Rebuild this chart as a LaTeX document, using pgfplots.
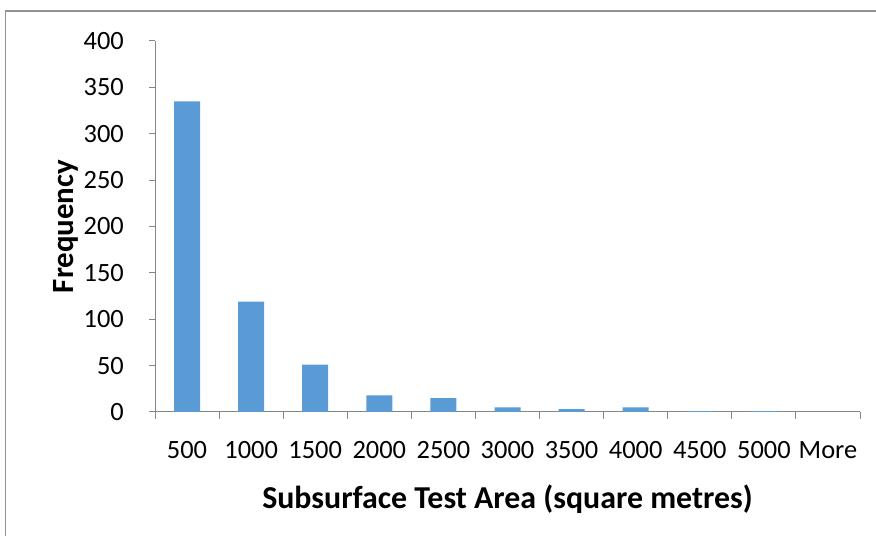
\documentclass[border=0pt]{standalone}
\usepackage{pgfplots}
\pgfplotsset{compat=1.18}
\usepackage{fontspec}
\setmainfont{Carlito}
\definecolor{barblue}{HTML}{5B9BD5}
\definecolor{axgray}{HTML}{868686}
\begin{document}
\begin{tikzpicture}[x=1bp,y=1bp]
\useasboundingbox (0,0) rectangle (876,536);
\draw[color=axgray!90, line width=1.2bp] (5.5,0) -- (5.5,525) -- (876,525);
\begin{axis}[
  at={(155bp,124bp)}, anchor=south west,
  scale only axis, width=705bp, height=371bp,
  xmin=-0.5, xmax=10.5, ymin=0, ymax=400,
  axis x line*=bottom, axis y line*=left,
  axis line style={axgray, line width=1bp, -},
  xtick={0,...,10},
  xticklabels={500,1000,1500,2000,2500,3000,3500,4000,4500,5000,More},
  major x tick style={draw=none},
  minor xtick={-0.5,0.5,...,10.5},
  minor x tick style={axgray, line width=1bp},
  minor tick length=7bp,
  ytick={0,50,...,400},
  y tick style={axgray, line width=1bp},
  major tick length=6bp,
  tick align=outside,
  /pgf/number format/assume math mode=true,
  ticklabel style={font=\fontsize{26.5}{28}\selectfont, text=black},
  xticklabel style={anchor=base, inner sep=0pt, yshift=-41bp},
  yticklabel style={anchor=east, inner sep=0pt, xshift=-25bp},
  xlabel={\textbf{Subsurface Test Area (square metres)}},
  ylabel={\textbf{Frequency}},
  xlabel style={font=\fontsize{32}{34}\selectfont, at={(axis description cs:0.5,-0.2588)}, anchor=base, inner sep=0pt},
  ylabel style={font=\fontsize{31}{33}\selectfont, at={(axis description cs:-0.1149,0.5)}, anchor=base, inner sep=0pt},
  ybar, bar width=26bp,
]
\addplot[fill=barblue, draw=none] coordinates {
(0,335) (1,119) (2,51) (3,18) (4,15) (5,5) (6,3) (7,5) (8,1) (9,1) (10,0)
};
\end{axis}
\end{tikzpicture}
\end{document}
